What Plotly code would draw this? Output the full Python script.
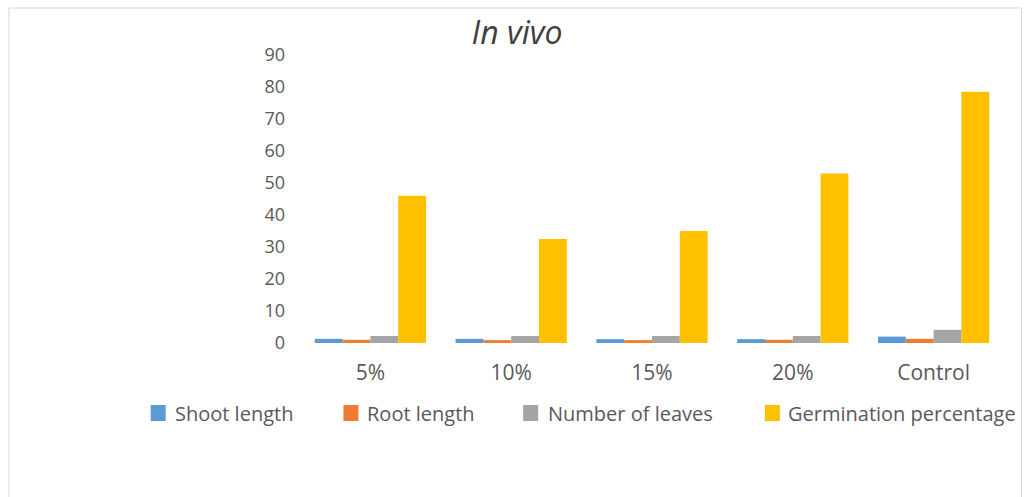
import plotly.graph_objects as go

# Treatments and measured traits
categories = ["5%", "10%", "15%", "20%", "Control"]
shoot_length = [1.3, 1.3, 1.2, 1.2, 2.0]
root_length = [1.0, 0.9, 0.9, 1.0, 1.3]
number_of_leaves = [2.2, 2.2, 2.2, 2.2, 4.1]
germination_percentage = [46, 32.5, 35, 53, 78.5]

y_ticks = [0, 10, 20, 30, 40, 50, 60, 70, 80, 90]

series = [
    ("Shoot length", shoot_length, "#5B9BD5"),
    ("Root length", root_length, "#ED7D31"),
    ("Number of leaves", number_of_leaves, "#A5A5A5"),
    ("Germination percentage", germination_percentage, "#FFC000"),
]

FONT = "Open Sans"
TEXT = "#595959"

fig = go.Figure()
for name, vals, color in series:
    fig.add_trace(go.Bar(
        x=categories, y=vals, name=name,
        marker=dict(color=color, line=dict(width=0)),
        showlegend=False,
    ))

# plot area in pixels
W, H = 1030, 497
L, R, T, B = 299.5, 1004.5, 55, 343
pw, ph = R - L, B - T


def px_x(x):
    return (x - L) / pw


def px_y(y):
    return (B - y) / ph


fig.update_layout(
    width=W, height=H,
    margin=dict(l=L, r=W - R, t=T, b=H - B),
    paper_bgcolor="white", plot_bgcolor="white",
    barmode="group", bargap=0.21, bargroupgap=0,
    font=dict(family=FONT, color=TEXT, size=18),
    title=dict(
        text="<i>In vivo</i>", x=517 / W, xref="container",
        xanchor="center", y=1 - 33 / H, yanchor="middle",
        font=dict(family=FONT, size=32, color="#404040"),
    ),
    xaxis=dict(
        showgrid=False, zeroline=False, showline=False,
        tickfont=dict(family=FONT, size=21, color=TEXT),
        ticklabelstandoff=15,
    ),
    yaxis=dict(
        range=[0, 90], tickvals=y_ticks, showgrid=False, zeroline=False,
        showline=False,
        tickfont=dict(family=FONT, size=18, color=TEXT),
        ticklabelstandoff=14,
    ),
)

# legend row: coloured square followed by series name
legend_sym_x = [150, 343, 523, 765]
legend_text_x = [172, 365, 546, 786]
legend_y = 413
for (name, _, color), sx, tx in zip(series, legend_sym_x, legend_text_x):
    fig.add_shape(
        type="rect", xref="paper", yref="paper",
        x0=px_x(sx), x1=px_x(sx + 15),
        y0=px_y(legend_y + 8), y1=px_y(legend_y - 8),
        line=dict(width=0), fillcolor=color,
    )
    fig.add_annotation(
        text=name, xref="paper", yref="paper",
        x=px_x(tx), y=px_y(legend_y), xanchor="left", yanchor="middle",
        showarrow=False, font=dict(family=FONT, size=20, color=TEXT),
    )

# outer chart border
fig.add_shape(
    type="rect", xref="paper", yref="paper",
    x0=px_x(8), x1=px_x(1022),
    y0=px_y(520), y1=px_y(8),
    line=dict(color="#D9D9D9", width=1), fillcolor="rgba(0,0,0,0)",
    layer="below",
)

fig.write_html("out.html")
